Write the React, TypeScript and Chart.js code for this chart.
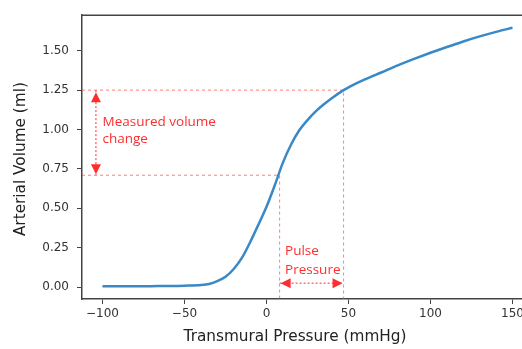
import React, { useEffect, useRef } from "react";
import { Chart, registerables } from "chart.js";
Chart.register(...registerables);

// Curve
const PRESSURE = [-100, -90, -80, -70, -60, -50, -40, -35, -30, -25, -20, -15, -10, -5, 0, 5, 10, 15, 20, 25, 30, 35, 40, 47, 50, 60, 70, 80, 90, 100, 110, 120, 130, 140, 150];
const VOLUME = [0.005, 0.005, 0.005, 0.006, 0.007, 0.009, 0.013, 0.02, 0.038, 0.065, 0.115, 0.185, 0.285, 0.395, 0.51, 0.645, 0.79, 0.905, 0.995, 1.06, 1.115, 1.16, 1.2, 1.25, 1.268, 1.318, 1.362, 1.407, 1.448, 1.487, 1.524, 1.559, 1.591, 1.62, 1.646];

const X_TICKS = [-100, -50, 0, 50, 100, 150];
const Y_TICKS = [0, 0.25, 0.5, 0.75, 1.0, 1.25, 1.5];
const X_MIN = -112.5;
const X_MAX = 162.5;
const Y_MIN = -0.0756;
const Y_MAX = 1.7256;

// Annotation values
const VOL_LOW = 0.71;
const VOL_HIGH = 1.25;
const P_LOW = 8;
const P_HIGH = 47;
const VOL_ARROW_X = -104;
const P_ARROW_Y = 0.025;
const VOL_TEXT = ["Measured volume", "change"];
const VOL_TEXT_X = -100;
const VOL_TEXT_Y = [1.049, 0.938];
const PULSE_TEXT = ["Pulse", "Pressure"];
const PULSE_TEXT_X = 11.3;
const PULSE_TEXT_Y = [0.226, 0.109];

const X_TITLE = "Transmural Pressure (mmHg)";
const Y_TITLE = "Arterial Volume (ml)";

const RED = "rgb(255,45,45)";
const DASH_RED = "rgba(255,70,70,0.7)";
const AXIS = "#444";
const FONT = "'DejaVu Sans', sans-serif";

const fmtX = (v: number) => (v < 0 ? "\u2212" + Math.abs(v) : String(v));

export default function App() {
  const ref = useRef<HTMLCanvasElement | null>(null);
  useEffect(() => {
    if (!ref.current) return;
    const decor = {
      id: "decor",
      afterDatasetsDraw(chart: any) {
        const { ctx, chartArea, scales } = chart;
        const xs = scales.x;
        const ys = scales.y;
        ctx.save();
        // top spine
        ctx.strokeStyle = AXIS;
        ctx.lineWidth = 1.5;
        ctx.beginPath();
        ctx.moveTo(chartArea.left, chartArea.top);
        ctx.lineTo(chartArea.right + 5, chartArea.top);
        ctx.stroke();
        // arrowheads
        ctx.fillStyle = RED;
        const head = (tx: number, ty: number, dx: number, dy: number) => {
          const L = 10, W = 5;
          const bx = tx - dx * L, by = ty - dy * L;
          ctx.beginPath();
          ctx.moveTo(tx, ty);
          ctx.lineTo(bx - dy * W, by + dx * W);
          ctx.lineTo(bx + dy * W, by - dx * W);
          ctx.closePath();
          ctx.fill();
        };
        const ax = xs.getPixelForValue(VOL_ARROW_X);
        head(ax, ys.getPixelForValue(VOL_HIGH) + 2, 0, -1);
        head(ax, ys.getPixelForValue(VOL_LOW) - 1, 0, 1);
        const ay = ys.getPixelForValue(P_ARROW_Y);
        head(xs.getPixelForValue(P_LOW) + 1, ay, -1, 0);
        head(xs.getPixelForValue(P_HIGH) - 1, ay, 1, 0);
        // annotation text
        ctx.fillStyle = RED;
        ctx.font = "13.5px 'Open Sans', sans-serif";
        ctx.textAlign = "left";
        ctx.textBaseline = "middle";
        VOL_TEXT.forEach((t, i) => ctx.fillText(t, xs.getPixelForValue(VOL_TEXT_X), ys.getPixelForValue(VOL_TEXT_Y[i])));
        PULSE_TEXT.forEach((t, i) => ctx.fillText(t, xs.getPixelForValue(PULSE_TEXT_X), ys.getPixelForValue(PULSE_TEXT_Y[i])));
        // axis titles
        ctx.fillStyle = "#222";
        ctx.font = "15.3px " + FONT;
        ctx.textAlign = "center";
        ctx.fillText(X_TITLE, chartArea.left + 213, chartArea.bottom + 38);
        ctx.translate(21, (chartArea.top + chartArea.bottom) / 2 + 2);
        ctx.rotate(-Math.PI / 2);
        ctx.fillText(Y_TITLE, 0, 0);
        ctx.restore();
      },
    };
    const chart = new Chart(ref.current, {
      type: "line",
      data: {
        datasets: [
          {
            data: PRESSURE.map((x, i) => ({ x, y: VOLUME[i] })),
            borderColor: "#3a88c5",
            borderWidth: 2.5,
            pointRadius: 0,
            cubicInterpolationMode: "monotone",
            order: 0,
          },
          {
            data: [{ x: X_MIN, y: VOL_HIGH }, { x: P_HIGH, y: VOL_HIGH }, { x: P_HIGH, y: Y_MIN }],
            borderColor: DASH_RED,
            borderWidth: 1,
            borderDash: [3, 3],
            pointRadius: 0,
            order: 1,
          },
          {
            data: [{ x: X_MIN, y: VOL_LOW }, { x: P_LOW, y: VOL_LOW }, { x: P_LOW, y: Y_MIN }],
            borderColor: DASH_RED,
            borderWidth: 1,
            borderDash: [3, 3],
            pointRadius: 0,
            order: 1,
          },
          {
            data: [{ x: VOL_ARROW_X, y: VOL_HIGH }, { x: VOL_ARROW_X, y: VOL_LOW }],
            borderColor: RED,
            borderWidth: 1,
            borderDash: [2, 2],
            pointRadius: 0,
            order: 1,
          },
          {
            data: [{ x: P_LOW, y: P_ARROW_Y }, { x: P_HIGH, y: P_ARROW_Y }],
            borderColor: RED,
            borderWidth: 1,
            borderDash: [2, 2],
            pointRadius: 0,
            order: 1,
          },
        ],
      },
      options: {
        animation: false,
        responsive: false,
        maintainAspectRatio: false,
        layout: { padding: { top: 6, right: 27, left: 0, bottom: 0 } },
        plugins: { legend: { display: false }, tooltip: { enabled: false } },
        scales: {
          x: {
            type: "linear",
            min: X_MIN,
            max: X_MAX,
            afterBuildTicks: (s: any) => {
              s.ticks = X_TICKS.map((v) => ({ value: v }));
            },
            afterFit: (s: any) => {
              s.height = 50;
            },
            ticks: {
              callback: (v: any) => fmtX(Number(v)),
              font: { family: FONT, size: 12 },
              color: "#333",
              padding: 3,
              maxRotation: 0,
              autoSkip: false,
            },
            grid: { display: true, drawOnChartArea: false, drawTicks: true, tickLength: 5, color: AXIS },
            border: { display: true, color: AXIS, width: 1.5 },
          },
          y: {
            type: "linear",
            min: Y_MIN,
            max: Y_MAX,
            afterBuildTicks: (s: any) => {
              s.ticks = Y_TICKS.map((v) => ({ value: v }));
            },
            afterFit: (s: any) => {
              s.width = 82;
            },
            ticks: {
              callback: (v: any) => Number(v).toFixed(2),
              font: { family: FONT, size: 12 },
              color: "#333",
              padding: 8,
              autoSkip: false,
            },
            grid: { display: true, drawOnChartArea: false, drawTicks: true, tickLength: 5, color: AXIS },
            border: { display: true, color: AXIS, width: 1.5 },
          },
        },
      },
      plugins: [decor],
    } as any);
    return () => chart.destroy();
  }, []);
  return (
    <div style={{ position: "fixed", left: 0, top: 0, width: 522, height: 349, overflow: "hidden", background: "#fff" }}>
      <canvas ref={ref} width={560} height={349} style={{ width: 560, height: 349, display: "block" }} />
    </div>
  );
}
